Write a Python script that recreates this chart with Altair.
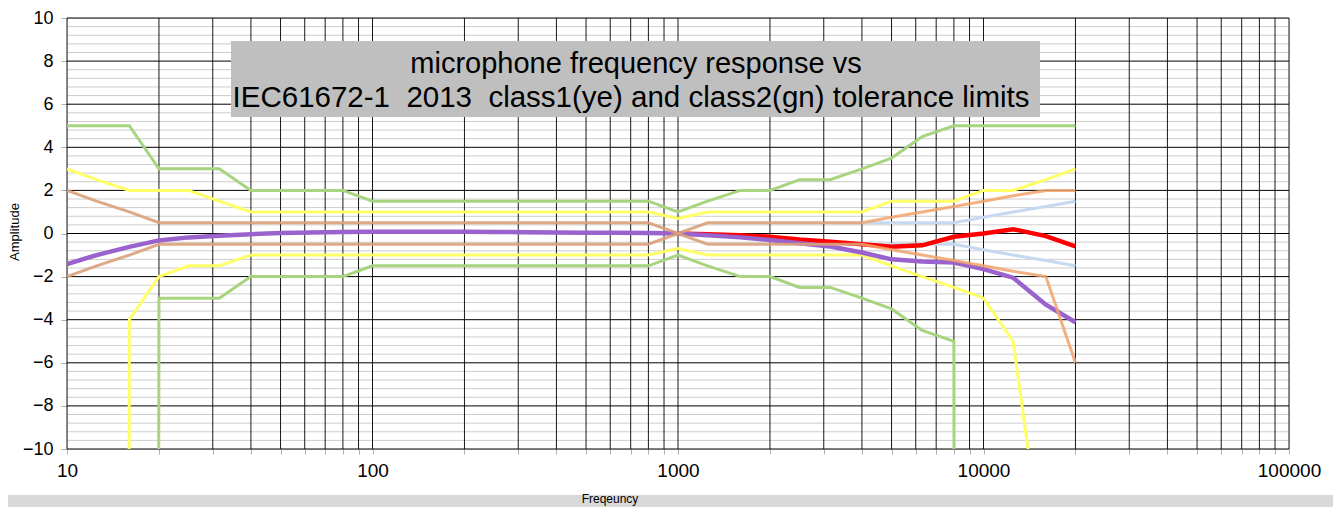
import altair as alt
import pandas as pd
import numpy as np

# ---------------- data ----------------
NEG_INF = -1000.0  # "-infinity" tolerance (off the chart)

freqs = [10, 12.5, 16, 20, 25, 31.5, 40, 50, 63, 80, 100, 125, 160, 200, 250, 315,
         400, 500, 630, 800, 1000, 1250, 1600, 2000, 2500, 3150, 4000, 5000, 6300,
         8000, 10000, 12500, 16000, 20000]

class1_upper = [3.0, 2.5, 2.0, 2.0, 2.0, 1.5, 1.0, 1.0, 1.0, 1.0, 1.0, 1.0, 1.0, 1.0,
                1.0, 1.0, 1.0, 1.0, 1.0, 1.0, 0.7, 1.0, 1.0, 1.0, 1.0, 1.0, 1.0, 1.5,
                1.5, 1.5, 2.0, 2.0, 2.5, 3.0]
class1_lower = [NEG_INF, NEG_INF, -4.0, -2.0, -1.5, -1.5, -1.0, -1.0, -1.0, -1.0, -1.0,
                -1.0, -1.0, -1.0, -1.0, -1.0, -1.0, -1.0, -1.0, -1.0, -0.7, -1.0, -1.0,
                -1.0, -1.0, -1.0, -1.0, -1.5, -2.0, -2.5, -3.0, -5.0, -16.0, NEG_INF]

class2_upper = [5.0, 5.0, 5.0, 3.0, 3.0, 3.0, 2.0, 2.0, 2.0, 2.0, 1.5, 1.5, 1.5, 1.5,
                1.5, 1.5, 1.5, 1.5, 1.5, 1.5, 1.0, 1.5, 2.0, 2.0, 2.5, 2.5, 3.0, 3.5,
                4.5, 5.0, 5.0, 5.0, 5.0, 5.0]
class2_lower = [NEG_INF, NEG_INF, NEG_INF, -3.0, -3.0, -3.0, -2.0, -2.0, -2.0, -2.0,
                -1.5, -1.5, -1.5, -1.5, -1.5, -1.5, -1.5, -1.5, -1.5, -1.5, -1.0, -1.5,
                -2.0, -2.0, -2.5, -2.5, -3.0, -3.5, -4.5, -5.0, NEG_INF, NEG_INF,
                NEG_INF, NEG_INF]

# reference tolerance (10 Hz .. 4 kHz)
tan_freqs = freqs[:27]
tan_upper = [2.0, 1.5, 1.0, 0.5, 0.5, 0.5, 0.5, 0.5, 0.5, 0.5, 0.5, 0.5, 0.5, 0.5,
             0.5, 0.5, 0.5, 0.5, 0.5, 0.5, 0.0, 0.5, 0.5, 0.5, 0.5, 0.5, 0.5]
tan_lower = [-2.0, -1.5, -1.0, -0.5, -0.5, -0.5, -0.5, -0.5, -0.5, -0.5, -0.5, -0.5,
             -0.5, -0.5, -0.5, -0.5, -0.5, -0.5, -0.5, -0.5, 0.0, -0.5, -0.5, -0.5,
             -0.5, -0.5, -0.5]

# high-frequency tolerances (4 kHz .. 20 kHz)
hf_freqs = [4000, 5000, 6300, 8000, 10000, 12500, 16000, 20000]
orange_upper = [0.5, 0.75, 1.0, 1.25, 1.5, 1.75, 2.0, 2.0]
orange_lower = [-0.5, -0.75, -1.0, -1.25, -1.5, -1.75, -2.0, -6.0]
blue_upper = [0.5, 0.5, 0.5, 0.5, 0.75, 1.0, 1.25, 1.5]
blue_lower = [-0.5, -0.5, -0.5, -0.5, -0.75, -1.0, -1.25, -1.5]

# measured responses
purple_resp = [-1.42, -1.0, -0.62, -0.32, -0.18, -0.1, -0.03, 0.02, 0.05, 0.07, 0.08,
               0.08, 0.08, 0.08, 0.07, 0.06, 0.05, 0.04, 0.04, 0.02, 0.0, -0.08, -0.18,
               -0.3, -0.45, -0.6, -0.88, -1.2, -1.3, -1.35, -1.65, -2.05, -3.3, -4.12]
red_freqs = freqs[20:]
red_resp = [0.0, -0.03, -0.08, -0.15, -0.28, -0.38, -0.5, -0.62, -0.55, -0.15, 0.0,
            0.2, -0.12, -0.6]

x_ticks = [m * 10 ** k for k in range(1, 5) for m in range(1, 10)] + [100000]
y_major = list(range(-10, 11, 2))
y_minor = [round(v, 1) for v in np.arange(-10, 10.01, 0.4)
           if abs(round(v, 1) / 2 - round(round(v, 1) / 2)) > 1e-6]

NB = "\u00a0"
TITLE_1 = "microphone frequency response vs"
TITLE_2 = f"IEC61672-1 {NB}2013 {NB}class1(ye) and class2(gn) tolerance limits"

# ---------------- layout ----------------
W, H = 1222, 431
TOP = 10
FONT = "Liberation Sans"

xscale = alt.Scale(type="log", domain=[10, 100000], nice=False)
yscale = alt.Scale(domain=[-10, 10], nice=False, zero=False)

XAXIS = alt.Axis(values=x_ticks, grid=False, domain=False, tickColor="#b0b0b0",
                 tickSize=5, labelFont=FONT, labelFontSize=19, labelColor="black",
                 labelPadding=7, labelFlush=False, labelOverlap=False, title=None,
                 labelExpr="indexof([10,100,1000,10000,100000], datum.value) >= 0 ? format(datum.value, 'd') : ''")
YAXIS = alt.Axis(values=y_major, grid=False, domain=False, tickColor="#b0b0b0",
                 tickSize=6, labelFont=FONT, labelFontSize=18, labelColor="black",
                 labelPadding=8, labelFlush=False, labelOverlap=False, title=None)


def X(field="f"):
    return alt.X(f"{field}:Q", scale=xscale, axis=XAXIS)


def Y(field="v"):
    return alt.Y(f"{field}:Q", scale=yscale, axis=YAXIS)


def band(fr, up, lo):
    rows = [{"f": f, "v": v, "side": "up"} for f, v in zip(fr, up)]
    rows += [{"f": f, "v": v, "side": "lo"} for f, v in zip(fr, lo)]
    return pd.DataFrame(rows)


def lines(df, color, width, opacity=1.0, detail=True):
    enc = dict(x=X(), y=Y())
    if detail:
        enc["detail"] = "side:N"
    return alt.Chart(df).mark_line(color=color, strokeWidth=width, opacity=opacity,
                                   clip=True, strokeJoin="miter").encode(**enc)


# grid
minor_rules = alt.Chart(pd.DataFrame({"v": y_minor})).mark_rule(
    color="#cccccc", strokeWidth=1).encode(y=Y())
vert_rules = alt.Chart(pd.DataFrame({"f": x_ticks})).mark_rule(
    color="#000000", strokeWidth=1, opacity=0.9).encode(x=X())
major_rules = alt.Chart(pd.DataFrame({"v": y_major})).mark_rule(
    color="#000000", strokeWidth=1).encode(y=Y())

# series
green = lines(band(freqs, class2_upper, class2_lower), "#a6d47f", 3)
yellow = lines(band(freqs, class1_upper, class1_lower), "#ffff66", 3)
blue = lines(band(hf_freqs, blue_upper, blue_lower), "#c6d9f0", 3)
purple = lines(pd.DataFrame({"f": freqs, "v": purple_resp}), "#9a62cc", 4.5, detail=False)
red = lines(pd.DataFrame({"f": red_freqs, "v": red_resp}), "#ff0000", 4.5, detail=False)
tan = lines(band(tan_freqs, tan_upper, tan_lower), "#d9a07a", 3, opacity=0.9)
orange = lines(band(hf_freqs, orange_upper, orange_lower), "#f1a36b", 3, opacity=0.85)

# page y -> plot-relative y
def py(page_y):
    return page_y - 8 - TOP


one = pd.DataFrame({"k": [0]})
title_box = alt.Chart(one).mark_rect(color="#bfbfbf").encode(
    x=alt.value(164), x2=alt.value(973), y=alt.value(py(41)), y2=alt.value(py(117)))
title1 = alt.Chart(one).mark_text(text=TITLE_1, font=FONT, fontSize=29, color="black",
                                  align="center", baseline="middle").encode(
    x=alt.value(569), y=alt.value(py(64)))
title2 = alt.Chart(one).mark_text(text=TITLE_2, font=FONT, fontSize=29.5, color="black",
                                  align="center", baseline="middle").encode(
    x=alt.value(564), y=alt.value(py(98)))

bottom_band = alt.Chart(one).mark_rect(color="#d9d9d9").encode(
    x=alt.value(-70), x2=alt.value(W + 60), y=alt.value(py(495)), y2=alt.value(py(520)))
xlabel = alt.Chart(one).mark_text(text="Freqeuncy", font=FONT, fontSize=12, color="black",
                                  align="center", baseline="middle").encode(
    x=alt.value(543), y=alt.value(py(499)))
ylabel = alt.Chart(one).mark_text(text="Amplitude", font=FONT, fontSize=13, color="black",
                                  align="center", baseline="middle", angle=270).encode(
    x=alt.value(-52), y=alt.value(py(232)))

chart = alt.layer(
    minor_rules, vert_rules, major_rules,
    green, yellow, blue, red, purple, tan, orange,
    title_box, title1, title2, bottom_band, xlabel, ylabel,
).properties(
    width=W, height=H,
    autosize=alt.AutoSizeParams(type="none"),
    padding={"left": 59, "top": TOP, "right": 44, "bottom": 58},
).configure_view(stroke=None).configure(background="white")

chart.save("out.html", embed_options={"renderer": "svg", "actions": False})
